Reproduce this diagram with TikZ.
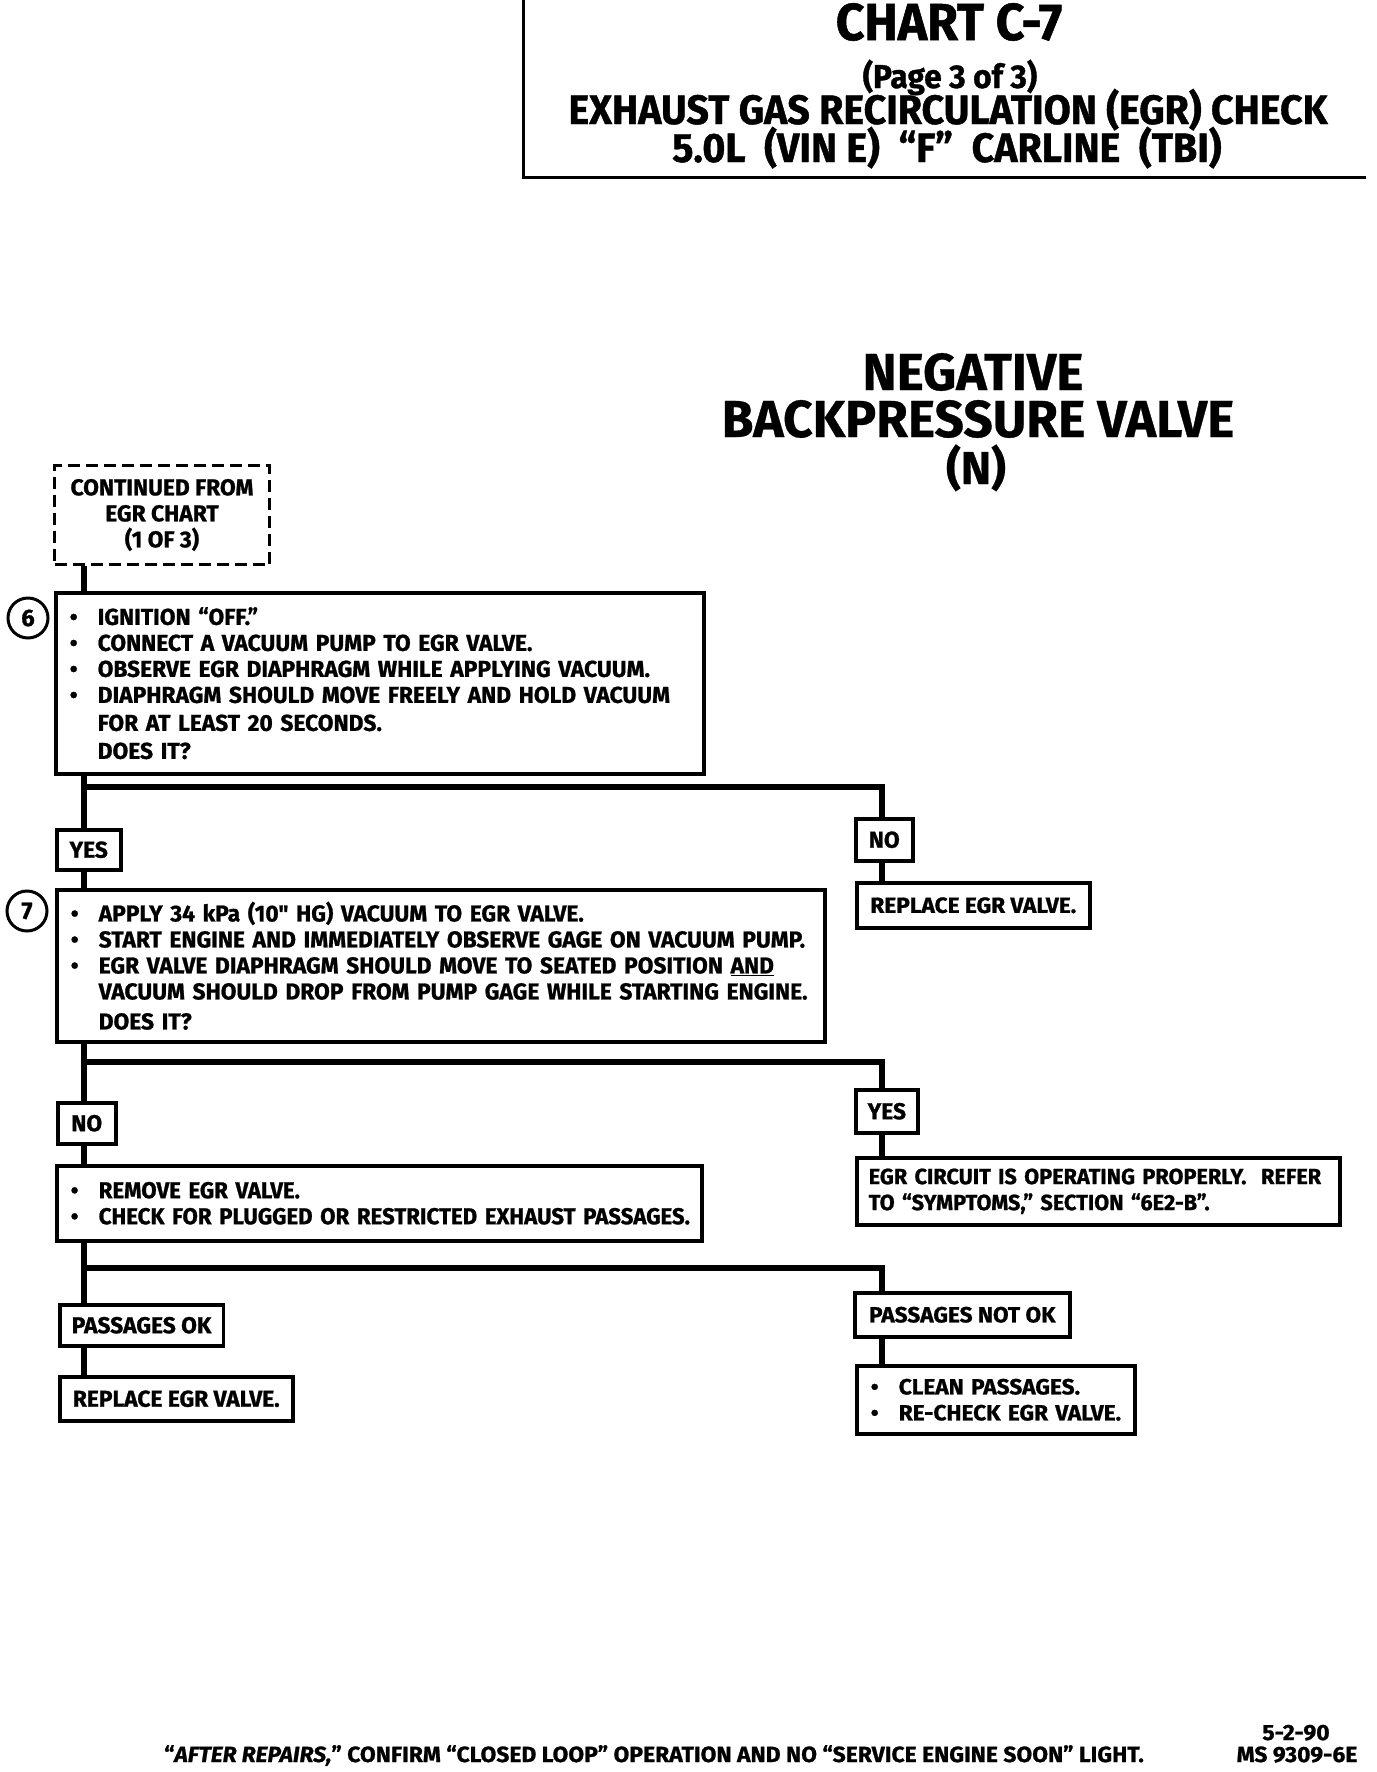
\documentclass[tikz,border=0pt]{standalone}
\usepackage{fontspec}
\newfontfamily\bx{Fira Sans}[FakeStretch=0.99,FakeBold=1]
\newfontfamily\bxn{Fira Sans}[FakeStretch=0.965,FakeBold=1]
\newfontfamily\bxw{Fira Sans}[FakeStretch=1.03,FakeBold=1]
\newfontfamily\bxe{Fira Sans}[FakeStretch=0.985,FakeBold=1]
\newfontfamily\ttl{Fira Sans}[FakeStretch=0.96,FakeBold=1]
\newfontfamily\hd{Fira Sans}[FakeStretch=0.99,FakeBold=0.6]
\newfontfamily\ft{Fira Sans}[FakeStretch=1.04,FakeBold=1]
\newcommand{\bl}[1]{\mbox{\makebox[28pt][l]{\textbullet}#1}}
\newcommand{\ind}[1]{\mbox{\hspace*{28pt}#1}}
\begin{document}
\begin{tikzpicture}[x=1pt,y=-1pt,line join=miter,
  box/.style={draw,line width=3.5pt,anchor=north west,inner xsep=12pt,inner ysep=0pt,
    font=\bx\bfseries\fontsize{23}{26}\selectfont},
  wbox/.style={box,font=\bxw\bfseries\fontsize{22}{26}\selectfont},
  conn/.style={line width=6pt},
  num/.style={draw,circle,line width=3pt,minimum size=40pt,inner sep=0pt,
    font=\bx\bfseries\fontsize{24}{26}\selectfont},
  ttext/.style={anchor=base,inner sep=0pt,font=\ttl\bfseries},
  htext/.style={anchor=base,inner sep=0pt,font=\hd\bfseries\fontsize{52}{56}\selectfont},
  ftext/.style={inner sep=0pt,font=\ft\bfseries\fontsize{22}{24}\selectfont}]
\useasboundingbox (0,0) rectangle (1376,1772);
% title frame
\draw[line width=3pt] (523,-5) -- (523,177) -- (1366,177);
\node[ttext,font=\ttl\bfseries\fontsize{52}{56}\selectfont] (t1) at (949,40) {CHART C-7};
\node[ttext,font=\ttl\bfseries\fontsize{33}{36}\selectfont] (t2) at (950,88) {(Page 3 of 3)};
\node[ttext,font=\ttl\bfseries\fontsize{41}{44}\selectfont] (t3) at (948,124) {EXHAUST GAS RECIRCULATION (EGR) CHECK};
\node[ttext,font=\ttl\bfseries\fontsize{41}{44}\selectfont] (t4) at (947,162) {5.0L\ \ (VIN E)\ \ “F”\ \ CARLINE\ \ (TBI)};
\node[htext] (h1) at (973,390) {NEGATIVE};
\node[htext] (h2) at (978,437) {BACKPRESSURE VALVE};
\node[htext,font=\hd\bfseries\fontsize{46}{50}\selectfont] (h3) at (976,484) {(N)};
% spine coordinates
\coordinate (sp) at (84,0);
\coordinate (rx) at (882,0);
\coordinate (br1) at (84,787);
\coordinate (br2) at (84,1062);
\coordinate (br3) at (84,1268);
% boxes
\node[box,dashed,dash pattern=on 12pt off 6pt,line width=3pt,align=center,minimum width=215pt,minimum height=99pt] (cont) at (53,464) {CONTINUED FROM\\EGR CHART\\(1 OF 3)};
\node[box,align=left,text width=620pt,minimum height=181pt,inner xsep=14pt] (b6) at (54,591)
 {\bl{IGNITION “OFF.”}\\\bl{CONNECT A VACUUM PUMP TO EGR VALVE.}\\\bl{OBSERVE EGR DIAPHRAGM WHILE APPLYING VACUUM.}\\\bl{DIAPHRAGM SHOULD MOVE FREELY AND HOLD VACUUM}\\[2pt]\ind{FOR AT LEAST 20 SECONDS.}\\[2pt]\ind{DOES IT?}};
\node[num] (n6) at (28,618) {6};
\node[box,minimum width=64pt,minimum height=40pt] (yes1) at (55,828) {YES};
\node[box,minimum width=57pt,minimum height=42pt] (no1) at (854,817) {NO};
\node[wbox,minimum width=233pt,minimum height=45pt] (rep1) at (855,881) {REPLACE EGR VALVE.};
\node[box,align=left,text width=740pt,minimum height=152pt,inner xsep=14pt] (b7) at (55,888)
 {\bl{APPLY 34 kPa (10" HG) VACUUM TO EGR VALVE.}\\\bl{START ENGINE AND IMMEDIATELY OBSERVE GAGE ON VACUUM PUMP.}\\\bl{EGR VALVE DIAPHRAGM SHOULD MOVE TO SEATED POSITION \underline{AND}}\\\ind{VACUUM SHOULD DROP FROM PUMP GAGE WHILE STARTING ENGINE.}\\[4pt]\ind{DOES IT?}};
\node[num] (n7) at (27,911) {7};
\node[box,minimum width=58pt,minimum height=41pt] (no2) at (56,1101) {NO};
\node[box,minimum width=57pt,minimum height=43pt] (yes2) at (854,1088) {YES};
\node[wbox,font=\bxe\bfseries\fontsize{22}{26}\selectfont,align=left,text width=459pt,minimum height=67pt] (egr) at (855,1156)
 {\mbox{EGR CIRCUIT IS OPERATING PROPERLY.\ \ REFER}\\\mbox{TO “SYMPTOMS,” SECTION “6E2-B”.}};
\node[box,font=\bxn\bfseries\fontsize{23}{26}\selectfont,align=left,text width=617pt,minimum height=75pt,inner xsep=14pt] (rem) at (55,1164)
 {\bl{REMOVE EGR VALVE.}\\\bl{CHECK FOR PLUGGED OR RESTRICTED EXHAUST PASSAGES.}};
\node[box,minimum width=162pt,minimum height=41pt] (pok) at (58,1303) {PASSAGES OK};
\node[box,minimum width=233pt,minimum height=44pt] (rep2) at (58,1375) {REPLACE EGR VALVE.};
\node[wbox,minimum width=215pt,minimum height=44pt] (pno) at (853,1291) {PASSAGES NOT OK};
\node[wbox,align=left,text width=250pt,minimum height=68pt,inner xsep=14pt] (cln) at (855,1364)
 {\bl{CLEAN PASSAGES.}\\\bl{RE-CHECK EGR VALVE.}};
% connectors
\draw[conn] (cont.south -| sp) -- (b6.north -| sp);
\draw[conn] (b6.south -| sp) -- (yes1.north -| sp);
\draw[conn] (br1) -| (no1.north -| rx);
\draw[conn] (no1.south -| rx) -- (rep1.north -| rx);
\draw[conn] (yes1.south -| sp) -- (b7.north -| sp);
\draw[conn] (b7.south -| sp) -- (no2.north -| sp);
\draw[conn] (br2) -| (yes2.north -| rx);
\draw[conn] (yes2.south -| rx) -- (egr.north -| rx);
\draw[conn] (no2.south -| sp) -- (rem.north -| sp);
\draw[conn] (rem.south -| sp) -- (pok.north -| sp);
\draw[conn] (br3) -| (pno.north -| rx);
\draw[conn] (pok.south -| sp) -- (rep2.north -| sp);
\draw[conn] (pno.south -| rx) -- (cln.north -| rx);
% footer
\node[ftext,anchor=base west] (foot) at (164,1762)
 {“\textit{AFTER REPAIRS,}” CONFIRM “CLOSED LOOP” OPERATION AND NO “SERVICE ENGINE SOON” LIGHT.};
\node[ftext,anchor=base] (date) at (1296,1740) {5-2-90};
\node[ftext,anchor=base] (ms) at (1297,1762) {MS 9309-6E};
\end{tikzpicture}
\end{document}
